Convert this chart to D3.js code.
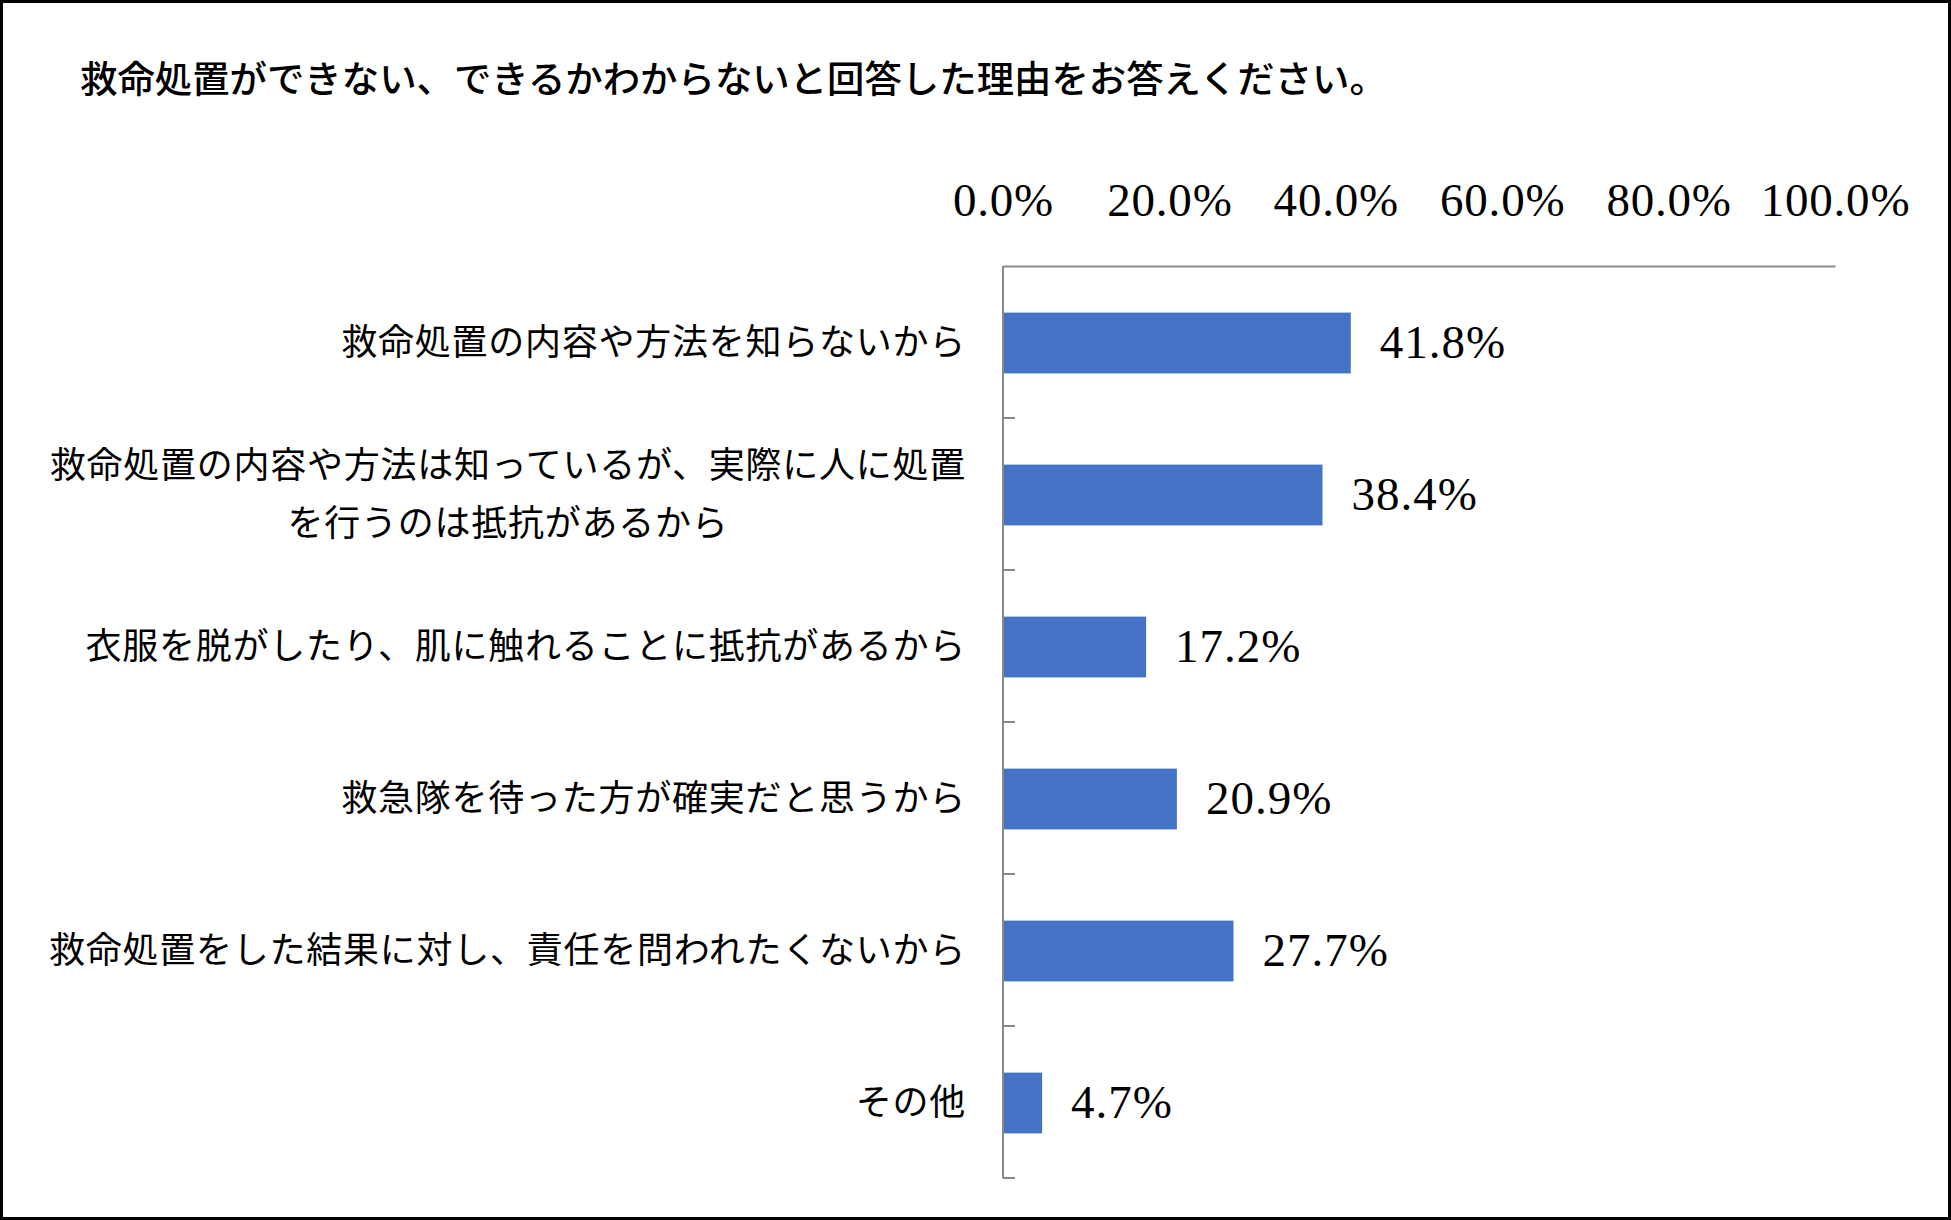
<!DOCTYPE html>
<html>
<head>
<meta charset="utf-8">
<script src="https://cdn.jsdelivr.net/npm/d3@7"></script>
<style>
  html, body { margin: 0; padding: 0; background: #fff; }
  svg { display: block; }
</style>
</head>
<body>
<svg id="chart" width="1951" height="1220"></svg>
<script>
const title = "救命処置ができない、できるかわからないと回答した理由をお答えください。";
const categories = [
  ["救命処置の内容や方法を知らないから"],
  ["救命処置の内容や方法は知っているが、実際に人に処置", "を行うのは抵抗があるから"],
  ["衣服を脱がしたり、肌に触れることに抵抗があるから"],
  ["救急隊を待った方が確実だと思うから"],
  ["救命処置をした結果に対し、責任を問われたくないから"],
  ["その他"]
];
const values = [41.8, 38.4, 17.2, 20.9, 27.7, 4.7];
const tickValues = [0, 20, 40, 60, 80, 100];

const W = 1951, H = 1220;
const plot = { left: 1003, right: 1835, top: 266, bottom: 1178 };
const svg = d3.select("#chart");

svg.append("rect").attr("x", 0).attr("y", 0).attr("width", W).attr("height", H).attr("fill", "#fff");

const x = d3.scaleLinear().domain([0, 100]).range([plot.left, plot.right]);
const y = d3.scaleBand().domain(d3.range(categories.length))
  .range([plot.top, plot.bottom]).paddingInner(0.6).paddingOuter(0.3);

const serif = "'Liberation Serif', 'DejaVu Serif', serif";
const jp = "'Noto Sans CJK JP', 'Noto Sans CJK SC', sans-serif";
const axisColor = "#898989";

// title
svg.append("text")
  .attr("x", 80).attr("y", 77)
  .attr("dominant-baseline", "central")
  .attr("font-family", jp).attr("font-size", 37.4).attr("font-weight", 500)
  .attr("fill", "#000")
  .text(title);

// top value axis
const xAxis = d3.axisTop(x).tickValues(tickValues).tickSize(0).tickSizeOuter(0).tickPadding(50)
  .tickFormat(d => d3.format(".1f")(d) + "%");
const gx = svg.append("g").attr("transform", `translate(0,${plot.top})`).call(xAxis);
gx.select(".domain").attr("stroke", axisColor).attr("stroke-width", 2);
gx.selectAll("text").attr("font-family", serif).attr("font-size", 47)
  .attr("letter-spacing", "0.8px").attr("fill", "#000");

// category axis line
svg.append("line")
  .attr("x1", x(0)).attr("x2", x(0))
  .attr("y1", plot.top).attr("y2", plot.bottom)
  .attr("stroke", axisColor).attr("stroke-width", 2);

// category tick marks at band boundaries
const step = y.step();
svg.append("g").selectAll("line").data(d3.range(1, categories.length + 1)).join("line")
  .attr("x1", x(0)).attr("x2", x(0) + 12)
  .attr("y1", d => plot.top + d * step).attr("y2", d => plot.top + d * step)
  .attr("stroke", axisColor).attr("stroke-width", 2);

// bars
svg.append("g").selectAll("rect").data(values).join("rect")
  .attr("x", x(0) + 1)
  .attr("y", (d, i) => y(i) + 1)
  .attr("width", d => x(d) - x(0) - 1)
  .attr("height", y.bandwidth())
  .attr("fill", "#4472C4");

// value labels
svg.append("g").selectAll("text").data(values).join("text")
  .attr("x", d => x(d) + 29)
  .attr("y", (d, i) => y(i) + y.bandwidth() / 2)
  .attr("dy", "0.33em")
  .attr("font-family", serif).attr("font-size", 47).attr("letter-spacing", "1px").attr("fill", "#000")
  .text(d => d.toFixed(1) + "%");

// category labels
const labelRight = 966;
const lineGap = 58;
categories.forEach((lines, i) => {
  const cy = y(i) + y.bandwidth() / 2 - 3;
  const g = svg.append("g");
  const texts = lines.map((ln, k) => g.append("text")
    .attr("y", cy + (k - (lines.length - 1) / 2) * lineGap)
    .attr("dominant-baseline", "central")
    .attr("font-family", jp).attr("font-size", 36).attr("letter-spacing", "0.75px").attr("fill", "#000")
    .text(ln));
  if (lines.length === 1) {
    texts[0].attr("x", labelRight).attr("text-anchor", "end");
  } else {
    const maxW = d3.max(texts, t => t.node().getComputedTextLength());
    texts.forEach(t => t.attr("x", labelRight - maxW / 2).attr("text-anchor", "middle"));
  }
});

// outer frame
svg.append("rect").attr("x", 1.5).attr("y", 1.5).attr("width", W - 3).attr("height", H - 3)
  .attr("fill", "none").attr("stroke", "#000").attr("stroke-width", 3);
</script>
</body>
</html>
